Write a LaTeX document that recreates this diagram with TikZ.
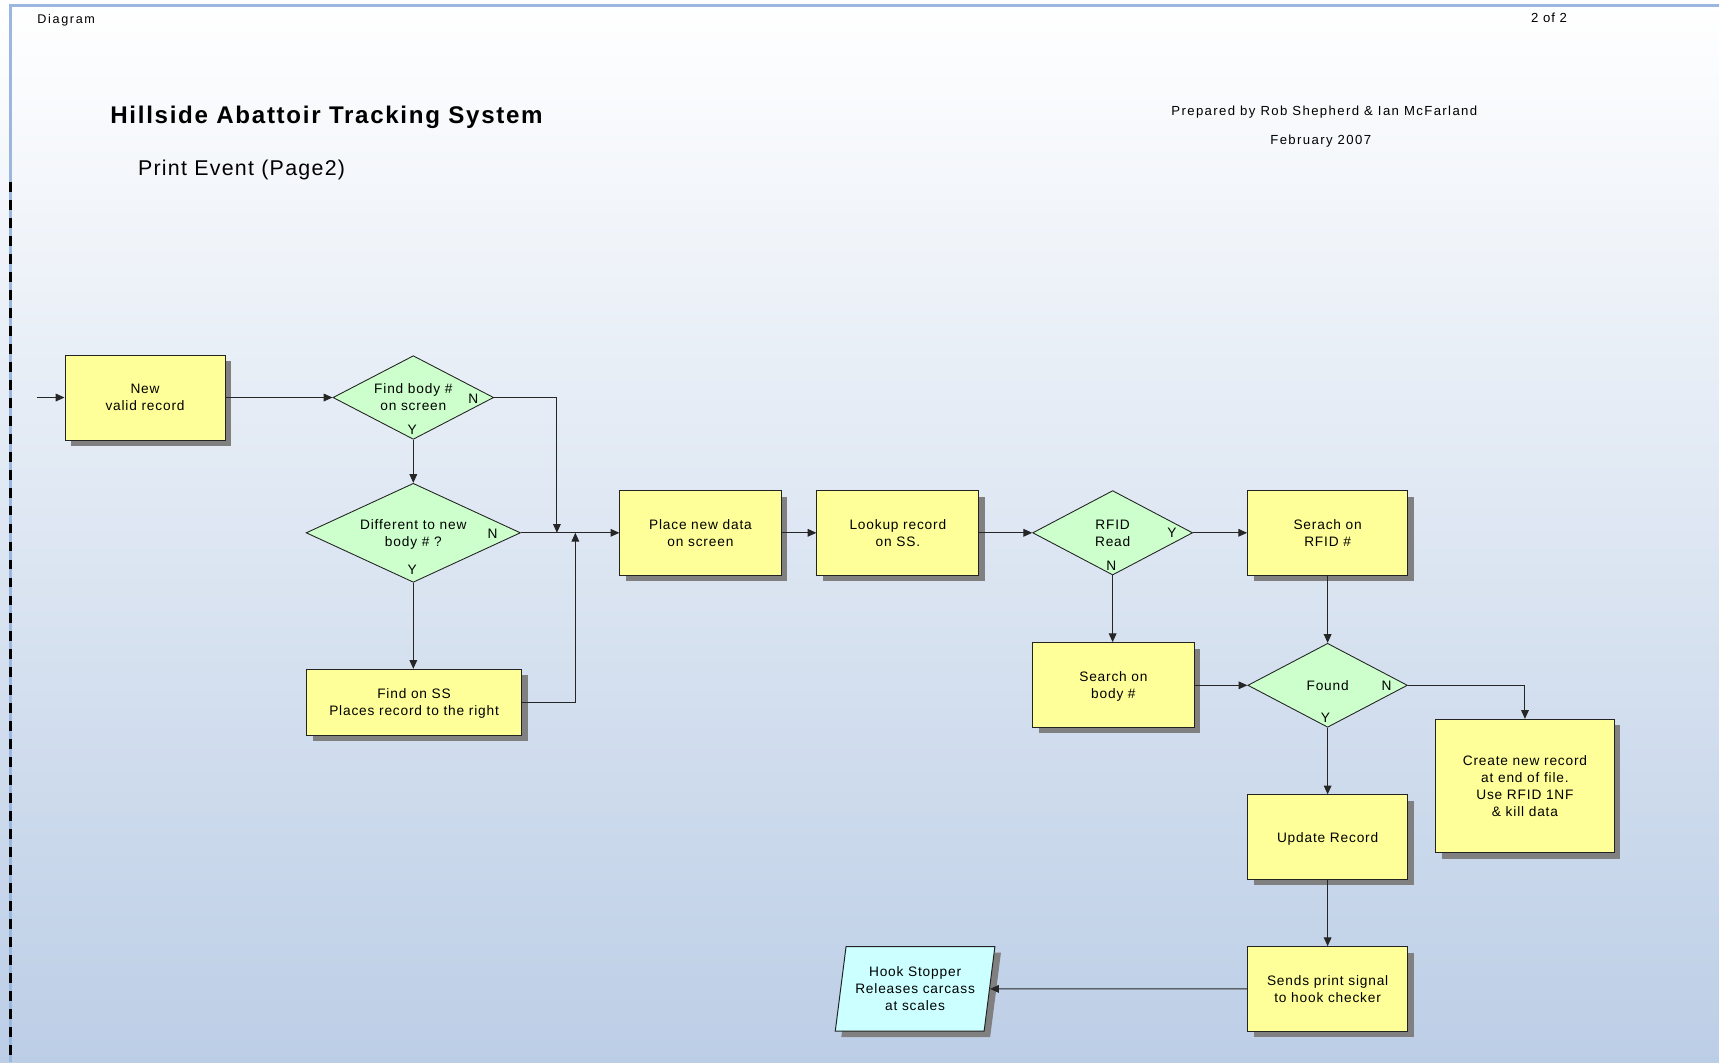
\documentclass[tikz,border=0pt]{standalone}
\usepackage{fontspec}
\setmainfont{Liberation Sans}
\newfontfamily\spaced[LetterSpace=6]{Liberation Sans}
\newfontfamily\widespaced[LetterSpace=7]{Liberation Sans}
\newfontfamily\airyspaced[LetterSpace=10.5]{Liberation Sans}
\newfontfamily\headfont[LetterSpace=13]{Liberation Sans}
\usetikzlibrary{shapes.geometric,arrows.meta,shadows}

\definecolor{bgblue}{RGB}{188,206,230}
\definecolor{frameblue}{RGB}{155,183,224}
\definecolor{procyellow}{RGB}{255,255,153}
\definecolor{decgreen}{RGB}{204,255,204}
\definecolor{iocyan}{RGB}{204,255,255}
\definecolor{shadowgray}{RGB}{128,128,128}
\definecolor{edgegray}{RGB}{35,35,35}

\begin{document}
\begin{tikzpicture}[x=1pt,y=1pt,
  boxtext/.style={font=\spaced\fontsize{12.5}{15.5}\selectfont, align=center, text=black,
    text depth=-4pt},
  hardshadow/.style={drop shadow={shadow xshift=5.5pt, shadow yshift=-5.5pt, fill=shadowgray, opacity=1}},
  process/.style={boxtext, rectangle, draw=edgegray, line width=0.9pt, fill=procyellow,
    inner sep=0pt, hardshadow},
  decision/.style={boxtext, diamond, draw=edgegray, line width=0.8pt, fill=decgreen, inner sep=0pt},
  iobox/.style={boxtext, trapezium, trapezium left angle=78, trapezium right angle=102,
    trapezium stretches=true, draw=edgegray, line width=0.9pt, fill=iocyan, inner sep=0pt, hardshadow},
  branch/.style={font=\spaced\fontsize{12.5}{15}\selectfont, inner sep=0pt, text=black},
  flow/.style={draw=black!85, line width=0.9pt, -{Triangle[length=8pt,width=7pt]}},
  headtext/.style={inner sep=0pt, text=black}
]

% page background and frame
\shade[top color=white, bottom color=bgblue] (0,0) rectangle (1568,-969);
\useasboundingbox (0,0) rectangle (1568,-969);
\draw[frameblue, line width=2pt] (8.5,-5) -- (1568,-5);
\draw[frameblue, line width=2pt] (9.5,-4) -- (9.5,-969);
\draw[black, line width=2.6pt, dash pattern=on 9pt off 7.4pt] (9.5,-166) -- (9.5,-969);

% header texts
\node[headtext, anchor=base west, font=\headfont\fontsize{11.5}{13}\selectfont] (hdrleft) at (34,-21) {Diagram};
\node[headtext, anchor=base west, font=\widespaced\fontsize{12}{14}\selectfont] (hdrright) at (1396.5,-20.7) {2 of 2};
\node[headtext, anchor=base west, font=\widespaced\bfseries\fontsize{22}{26}\selectfont] (title) at (100.5,-112.5) {Hillside Abattoir Tracking System};
\node[headtext, anchor=base west, font=\spaced\fontsize{19.5}{23}\selectfont] (subtitle) at (125.7,-160.5) {Print Event (Page2)};
\node[headtext, anchor=base, font=\airyspaced\fontsize{12}{14}\selectfont] (authors) at (1208,-105.2) {Prepared by Rob Shepherd \& Ian McFarland};
\node[headtext, anchor=base, font=\airyspaced\fontsize{12}{14}\selectfont] (date) at (1204.7,-131.4) {February 2007};

% flow chart nodes
\node[process, minimum width=146pt, minimum height=77.5pt] (new) at (132.3,-362.6) {New\\valid record};
\node[decision, aspect=1.92, minimum width=146.6pt, minimum height=76.3pt] (find) at (377,-362.6) {Find body \#\\on screen};
\node[decision, aspect=2.16, minimum width=195.5pt, minimum height=90.3pt] (diff) at (377,-486) {Different to new\\body \# ?};
\node[process, minimum width=196pt, minimum height=60pt] (ss) at (377.7,-640.5) {Find on SS\\Places record to the right};
\node[process, minimum width=147pt, minimum height=77pt] (place) at (638.9,-486) {Place new data\\on screen};
\node[process, minimum width=147.7pt, minimum height=77pt] (lookup) at (819,-486) {Lookup record\\on SS.};
\node[decision, aspect=1.89, minimum width=145.9pt, minimum height=77pt] (rfid) at (1014.9,-486) {RFID\\Read};
\node[process, minimum width=146pt, minimum height=77pt] (serach) at (1211,-486) {Serach on\\RFID \#};
\node[process, minimum width=147.6pt, minimum height=77.2pt] (sbody) at (1015.6,-624.8) {Search on\\body \#};
\node[decision, aspect=1.89, minimum width=145.6pt, minimum height=76.6pt] (found) at (1211,-625.1) {Found};
\node[process, minimum width=163pt, minimum height=121.7pt] (create) at (1391,-717) {Create new record\\at end of file.\\Use RFID 1NF\\\& kill data};
\node[process, minimum width=146pt, minimum height=77pt] (update) at (1211,-763.5) {Update Record};
\node[process, minimum width=146pt, minimum height=77pt] (sends) at (1211,-902) {Sends print signal\\to hook checker};
\node[iobox, minimum width=145.7pt, minimum height=77pt] (hook) at (834.7,-902) {Hook Stopper\\Releases carcass\\at scales};

% branch labels
\node[branch] (findN) at (431.8,-364) {N};
\node[branch] (findY) at (376,-392.2) {Y};
\node[branch] (diffN) at (449.3,-486.5) {N};
\node[branch] (diffY) at (376,-520) {Y};
\node[branch] (rfidY) at (1069,-486) {Y};
\node[branch] (rfidN) at (1013.7,-516) {N};
\node[branch] (foundN) at (1264.7,-625.4) {N};
\node[branch] (foundY) at (1209,-654.3) {Y};

% connector end points on the main line
\coordinate (entry) at (33.8,-362.6);
\coordinate (joinA) at (508,-486);
\coordinate (joinB) at (524.8,-486);

% connectors
\draw[flow] (entry) -- (new.west);
\draw[flow] (new.east) -- (find.west);
\draw[flow] (find.east) -| (joinA);
\draw[flow] (find.south) -- (diff.north);
\draw[flow] (diff.east) -- (place.west);
\draw[flow] (diff.south) -- (diff.south |- ss.north);
\draw[flow] (ss.east) -| (joinB);
\draw[flow] (place.east) -- (lookup.west);
\draw[flow] (lookup.east) -- (rfid.west);
\draw[flow] (rfid.east) -- (serach.west);
\draw[flow] (rfid.south) -- (rfid.south |- sbody.north);
\draw[flow] (serach.south) -- (found.north);
\draw[flow] (sbody.east |- found.west) -- (found.west);
\draw[flow] (found.east) -| (create.north);
\draw[flow] (found.south) -- (update.north);
\draw[flow] (update.south) -- (sends.north);
\draw[flow] (sends.west) -- (hook.east);

\end{tikzpicture}
\end{document}
